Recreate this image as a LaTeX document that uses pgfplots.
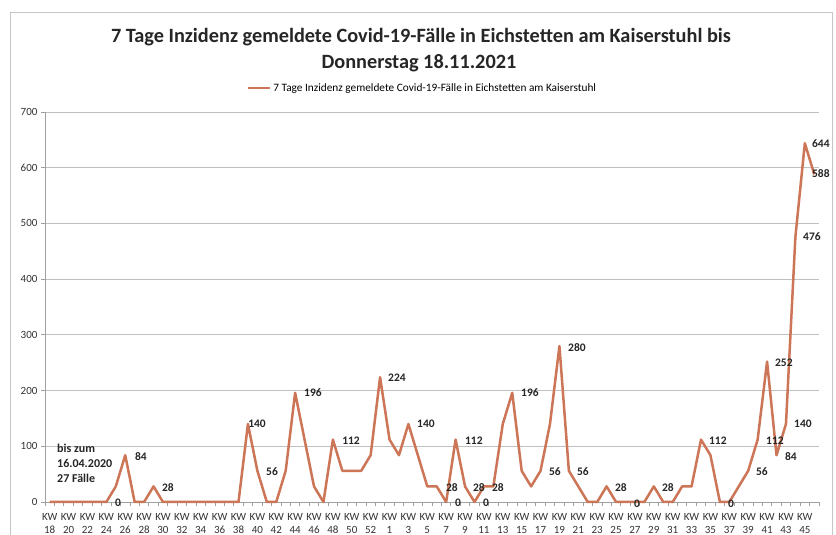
\documentclass[border=0pt]{standalone}
\usepackage{pgfplots}
\pgfplotsset{compat=1.18}
\usepackage{fontspec}
\setmainfont{Carlito}
\definecolor{linec}{RGB}{204,117,87}
\definecolor{gridc}{RGB}{192,192,192}
\definecolor{axc}{RGB}{160,160,160}
\begin{document}
\begin{tikzpicture}[x=1pt,y=1pt]
\useasboundingbox (0,0) rectangle (836,535);
\fill[white] (0,0) rectangle (836,535);
\draw[gray!45, line width=1pt] (10.5,-5) rectangle (832.5,522);
\node[font=\fontsize{20.3}{24}\selectfont\bfseries, text=black!85] at (421,498) {7 Tage Inzidenz gemeldete Covid-19-Fälle in Eichstetten am Kaiserstuhl bis};
\node[font=\fontsize{20.3}{24}\selectfont\bfseries, text=black!85] at (419,472) {Donnerstag 18.11.2021};
\begin{axis}[
  at={(45pt,33pt)}, anchor=south west,
  scale only axis, width=774pt, height=390pt,
  xmin=-0.5, xmax=81.5, ymin=0, ymax=700,
  axis lines*=left,
  axis line style={axc, line width=0.8pt},
  ytick={0,100,...,700},
  ymajorgrids, grid style={gridc, line width=0.8pt},
  xtick={0,2,...,80},
  xticklabels={{KW\\18},{KW\\20},{KW\\22},{KW\\24},{KW\\26},{KW\\28},{KW\\30},{KW\\32},{KW\\34},{KW\\36},{KW\\38},{KW\\40},{KW\\42},{KW\\44},{KW\\46},{KW\\48},{KW\\50},{KW\\52},{KW\\1},{KW\\3},{KW\\5},{KW\\7},{KW\\9},{KW\\11},{KW\\13},{KW\\15},{KW\\17},{KW\\19},{KW\\21},{KW\\23},{KW\\25},{KW\\27},{KW\\29},{KW\\31},{KW\\33},{KW\\35},{KW\\37},{KW\\39},{KW\\41},{KW\\43},{KW\\45}},
  minor xtick={-0.5,0.5,...,81.5},
  tick align=outside,
  major x tick style={draw=none},
  minor x tick style={axc, line width=0.8pt},
  y tick style={axc, line width=0.8pt},
  major tick length=4pt, minor tick length=4pt,
  xticklabel style={align=center, font=\fontsize{11}{12.5}\selectfont, text=black!80, yshift=-4pt},
  yticklabel style={font=\fontsize{11}{12}\selectfont, text=black!80},
  /pgf/number format/assume math mode=true,
  clip=false,
  legend style={at={(rel axis cs:0.4877,1.0615)}, anchor=center, draw=none, fill=none, font=\fontsize{11.3}{13}\selectfont},
  legend image code/.code={\draw[linec, line width=2.5pt] (0pt,0pt) -- (22pt,0pt);},
]
\addplot[linec, line width=2.5pt, line join=round] coordinates {
(0,0) (1,0) (2,0) (3,0) (4,0) (5,0) (6,0) (7,28) (8,84) (9,0)
(10,0) (11,28) (12,0) (13,0) (14,0) (15,0) (16,0) (17,0) (18,0) (19,0)
(20,0) (21,140) (22,56) (23,0) (24,0) (25,56) (26,196) (27,112) (28,28) (29,0)
(30,112) (31,56) (32,56) (33,56) (34,84) (35,224)
(36,112) (37,84) (38,140) (39,84) (40,28) (41,28) (42,0) (43,112) (44,28) (45,0)
(46,28) (47,28) (48,140) (49,196) (50,56) (51,28) (52,56) (53,140) (54,280) (55,56)
(56,28) (57,0) (58,0) (59,28) (60,0) (61,0) (62,0) (63,0) (64,28) (65,0)
(66,0) (67,28) (68,28) (69,112) (70,84) (71,0) (72,0) (73,28) (74,56) (75,112)
(76,252) (77,84) (78,140) (79,476) (80,644) (81,588)
};
\addlegendentry{7 Tage Inzidenz gemeldete Covid-19-Fälle in Eichstetten am Kaiserstuhl}
\begin{scope}[every node/.style={font=\fontsize{11.5}{13}\selectfont\bfseries, text=black!85, inner sep=1pt}]
\node at (axis cs:7.23,-2) {0};
\node at (axis cs:9.67,81) {84};
\node at (axis cs:12.53,25) {28};
\node at (axis cs:21.96,140) {140};
\node at (axis cs:23.55,54) {56};
\node at (axis cs:27.89,196) {196};
\node at (axis cs:31.92,110) {112};
\node at (axis cs:36.79,223) {224};
\node at (axis cs:39.86,140) {140};
\node at (axis cs:42.61,25) {28};
\node at (axis cs:43.25,-2) {0};
\node at (axis cs:44.94,110) {112};
\node at (axis cs:45.47,25) {28};
\node at (axis cs:46.22,-2) {0};
\node at (axis cs:47.49,25) {28};
\node at (axis cs:50.88,196) {196};
\node at (axis cs:55.86,278) {280};
\node at (axis cs:53.53,54) {56};
\node at (axis cs:56.49,54) {56};
\node at (axis cs:60.52,25) {28};
\node at (axis cs:62.21,-2.5) {0};
\node at (axis cs:65.49,25) {28};
\node at (axis cs:70.79,110) {112};
\node at (axis cs:72.17,-2.5) {0};
\node at (axis cs:75.45,54) {56};
\node at (axis cs:76.83,110) {112};
\node at (axis cs:78.53,81) {84};
\node at (axis cs:79.80,140) {140};
\node at (axis cs:77.78,250) {252};
\node at (axis cs:80.75,476) {476};
\node at (axis cs:81.7,644) {644};
\node at (axis cs:81.7,589) {588};
\node[anchor=west, align=left, font=\fontsize{12}{15}\selectfont\bfseries] at (axis cs:0.665,70) {bis zum\\16.04.2020\\27 Fälle};
\end{scope}
\end{axis}
\end{tikzpicture}
\end{document}
